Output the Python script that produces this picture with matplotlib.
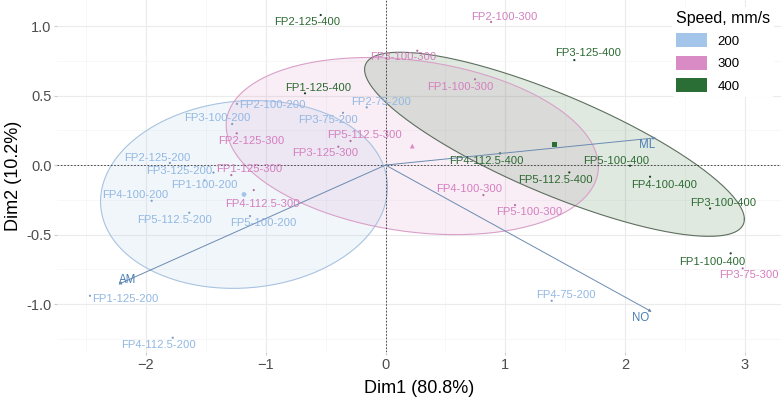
import numpy as np
import matplotlib
matplotlib.use("Agg")
import matplotlib.pyplot as plt
from matplotlib.patches import Patch

plt.rcParams['font.family'] = ['Liberation Sans', 'DejaVu Sans']

# individuals: name, Dim1, Dim2, speed group
names = ["FP2-100-200", "FP3-100-200", "FP3-75-200", "FP2-75-200", "FP2-125-200",
         "FP3-125-200", "FP1-100-200", "FP4-100-200", "FP5-112.5-200", "FP5-100-200",
         "FP1-125-200", "FP4-112.5-200", "FP4-75-200",
         "FP2-100-300", "FP3-100-300", "FP1-100-300", "FP2-125-300", "FP5-112.5-300",
         "FP3-125-300", "FP1-125-300", "FP4-112.5-300", "FP4-100-300", "FP5-100-300",
         "FP3-75-300",
         "FP2-125-400", "FP3-125-400", "FP1-125-400", "FP4-112.5-400", "FP5-100-400",
         "FP5-112.5-400", "FP4-100-400", "FP3-100-400", "FP1-100-400"]
dim1 = [-1.24, -1.28, -0.355, -0.157, -1.80, -1.436, -1.51, -1.952, -1.638, -1.131,
        -2.467, -1.776, 1.387,
        0.881, 0.265, 0.747, -1.242, -0.292, -0.394, -1.287, -1.10, 0.817, 1.081, 2.981,
        -0.541, 1.576, -0.672, 0.956, 2.041, 1.534, 2.208, 2.709, 2.881]
dim2 = [0.44, 0.295, 0.376, 0.415, 0.015, -0.054, -0.11, -0.257, -0.343, -0.367,
        -0.94, -1.242, -0.976,
        1.029, 0.822, 0.617, 0.228, 0.173, 0.132, -0.072, -0.18, -0.216, -0.288, -0.743,
        1.079, 0.755, 0.516, 0.084, -0.005, -0.053, -0.084, -0.312, -0.635]
speed = ["200"] * 13 + ["300"] * 11 + ["400"] * 9

# where the text labels sit (data units)
label_x = [-0.947, -1.407, -0.480, -0.038, -1.907, -1.724, -1.515, -2.091, -1.757, -1.023,
           -2.174, -1.891, 1.507,
           0.989, 0.146, 0.622, -1.123, -0.179, -0.505, -1.139, -1.031, 0.697, 1.198, 3.035,
           -0.655, 1.691, -0.563, 0.839, 1.924, 1.415, 2.325, 2.817, 2.725]
label_y = [0.432, 0.338, 0.324, 0.453, 0.050, -0.043, -0.140, -0.216, -0.396, -0.420,
           -0.964, -1.295, -0.935,
           1.065, 0.777, 0.561, 0.173, 0.216, 0.086, -0.029, -0.281, -0.173, -0.338, -0.791,
           1.029, 0.806, 0.554, 0.029, 0.029, -0.108, -0.144, -0.273, -0.698]

# variables
var_names = ["ML", "NO", "AM"]
var_x = [2.258, 2.222, -2.230]
var_y = [0.196, -1.055, -0.858]
var_label_x = [2.183, 2.133, -2.149]
var_label_y = [0.144, -1.101, -0.827]

groups = ["200", "300", "400"]
colors = {"200": "#A3C5EA", "300": "#D98BC6", "400": "#2B6E35"}
text_colors = {"200": "#92B8E3", "300": "#D47FBF", "400": "#2B6A31"}
edge_colors = {"200": "#A8C3E0", "300": "#D9A0C8", "400": "#5E6E5E"}
point_colors = {"200": "#7F9CC0", "300": "#B0709F", "400": "#1E3F22"}
markers = {"200": "o", "300": "^", "400": "s"}

dim1 = np.array(dim1)
dim2 = np.array(dim2)
speed = np.array(speed)

fig = plt.figure(figsize=(7.81, 4.01), dpi=100)
ax = fig.add_axes([0.073, 0.122, 0.927, 0.878])

# concentration ellipses (normal, level 0.5)
t = np.linspace(0, 2 * np.pi, 200)
circle = np.vstack([np.cos(t), np.sin(t)])
for g in groups:
    m = speed == g
    pts = np.vstack([dim1[m], dim2[m]])
    mu = pts.mean(axis=1)
    cov = np.cov(pts)
    d = m.sum() - 1
    r = np.sqrt(d * (2 ** (2 / d) - 1))
    L = np.linalg.cholesky(cov)
    ell = mu[:, None] + r * L @ circle
    ax.fill(ell[0], ell[1], color=colors[g], alpha=0.15, lw=0, zorder=1)
    ax.plot(ell[0], ell[1], color=edge_colors[g], lw=0.8, zorder=2)

# reference lines
ax.axhline(0, color="#333333", lw=0.6, ls=(0, (2, 2)), zorder=2)
ax.axvline(0, color="#333333", lw=0.6, ls=(0, (2, 2)), zorder=2)

# individuals
for g in groups:
    m = speed == g
    ax.scatter(dim1[m], dim2[m], s=2.5, color=point_colors[g], edgecolors="none", zorder=3)
    ax.scatter(dim1[m].mean(), dim2[m].mean(), s=12, marker=markers[g],
               color=colors[g], edgecolors="none", zorder=3)
for i, n in enumerate(names):
    ax.text(label_x[i], label_y[i], n, color=text_colors[speed[i]], fontsize=8.1,
            ha="center", va="center", zorder=4)

# variable arrows
for i, v in enumerate(var_names):
    ax.annotate("", xy=(var_x[i], var_y[i]), xytext=(0, 0),
                arrowprops=dict(arrowstyle="-|>", color="#6A8BB0", lw=0.7,
                                mutation_scale=4, shrinkA=0, shrinkB=0), zorder=3)
    ax.text(var_label_x[i], var_label_y[i], v, color="#4A7DB5", fontsize=8.3,
            ha="center", va="center", zorder=4)

ax.set_xlim(-2.742, 3.301)
ax.set_ylim(-1.345, 1.187)
ax.set_xticks([-2, -1, 0, 1, 2, 3])
ax.set_yticks([-1.0, -0.5, 0.0, 0.5, 1.0])
ax.set_yticklabels(["-1.0", "-0.5", "0.0", "0.5", "1.0"])
ax.set_xticks(np.arange(-2.5, 3.3, 1.0), minor=True)
ax.set_yticks(np.arange(-1.25, 1.1, 0.5), minor=True)
ax.grid(True, which="major", color="#EBEBEB", lw=0.8)
ax.grid(True, which="minor", color="#F4F4F4", lw=0.5)
ax.set_axisbelow(True)
for s in ax.spines.values():
    s.set_visible(False)
ax.tick_params(which="major", length=2, color="#CCCCCC", labelsize=10.5,
               labelcolor="#4D4D4D", pad=2)
ax.tick_params(which="minor", length=0)
ax.set_xlabel("Dim1 (80.8%)", fontsize=13, labelpad=6)
ax.set_ylabel("Dim2 (10.2%)", fontsize=13, labelpad=3)

handles = [Patch(facecolor=colors[g], edgecolor="none") for g in groups]
leg = ax.legend(handles, groups, title="Speed, mm/s", loc="upper right",
                bbox_to_anchor=(1.0, 1.0), fontsize=9.5, title_fontsize=11.5,
                frameon=True, framealpha=1, facecolor="white", edgecolor="none",
                handlelength=2.3, handleheight=1.25, labelspacing=0.6,
                handletextpad=0.8, borderpad=0.3, alignment="left")
leg.set_zorder(5)

fig.savefig("out.png", dpi=100)
